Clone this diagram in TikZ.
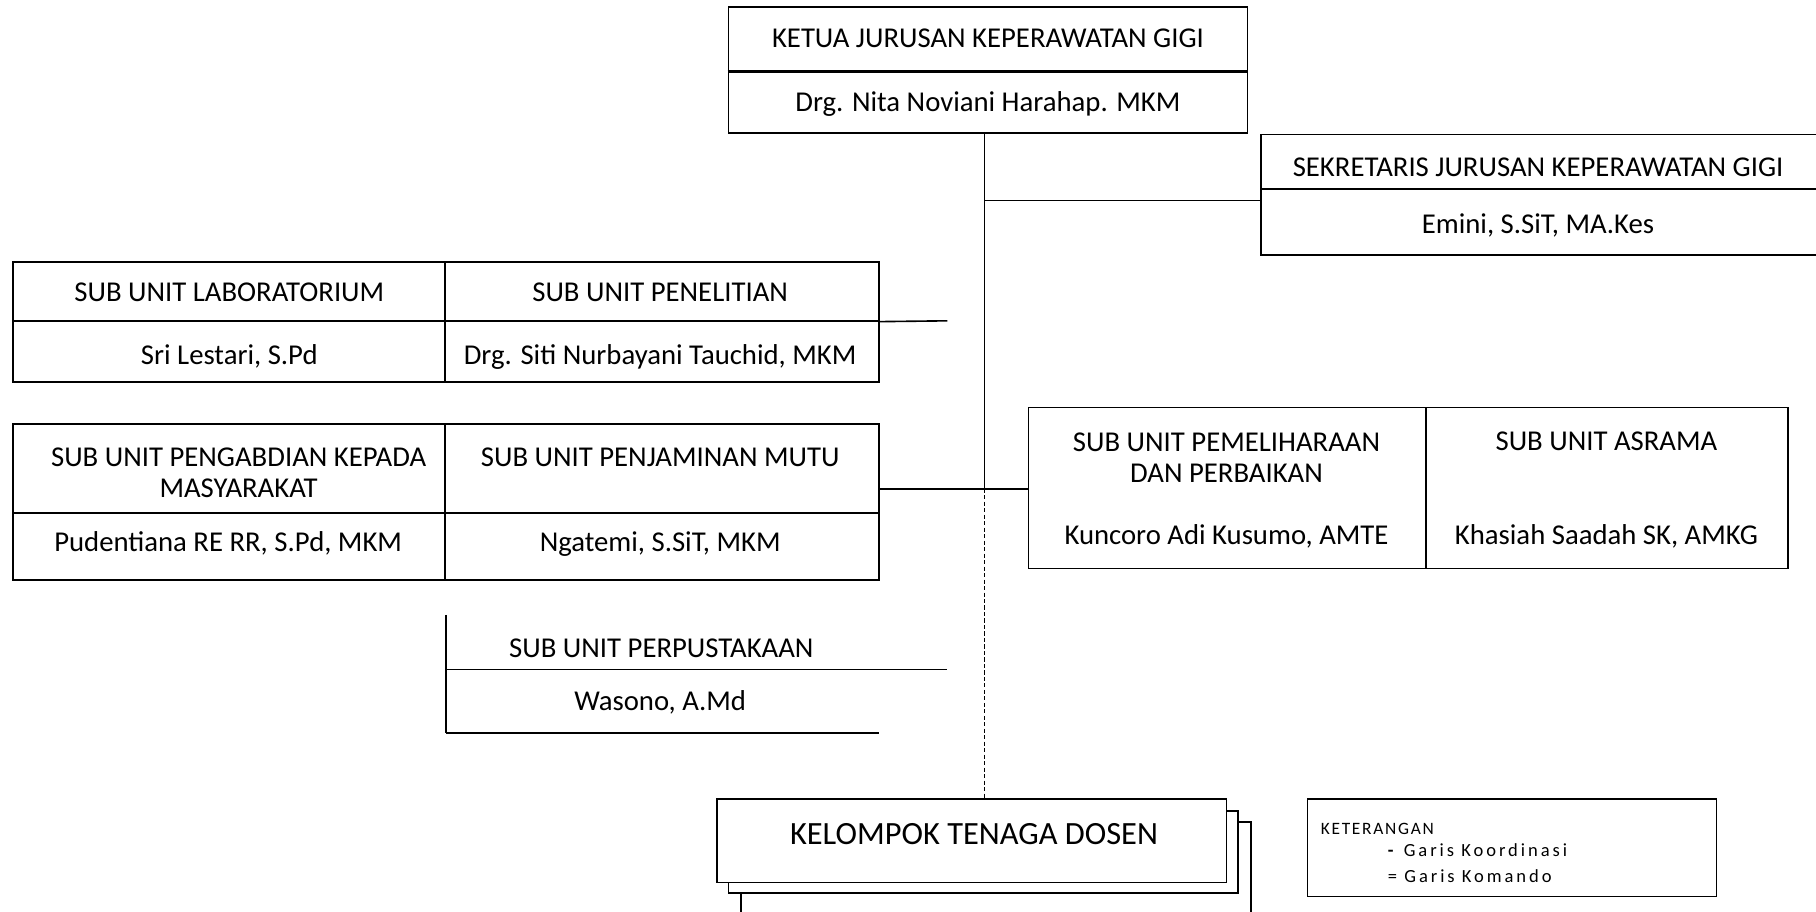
\documentclass[tikz,border=0pt]{standalone}
\usepackage{fontspec}
\setmainfont{Carlito}
\begin{document}
\begin{tikzpicture}[x=0.5pt,y=-0.5pt,
  cell/.style={draw, line width=0.7pt, inner sep=0pt},
  wcell/.style={cell, fill=white},
  txt2/.style={font=\fontsize{12.4}{13.5}\selectfont, inner sep=0pt, align=center},
  txt/.style={txt2, text height=0.64em, text depth=0em, yshift=-1pt},
  bigtxt/.style={font=\fontsize{14}{17}\selectfont, inner sep=0pt, text height=0.64em, text depth=0em, yshift=-1.5pt},
  smalltxt/.style={inner sep=0pt, anchor=west, text height=0.64em, text depth=0em},
  conn/.style={line width=0.7pt},
  coord/.style={line width=0.7pt, dash pattern=on 1.8pt off 1pt}]
\useasboundingbox (0,0) rectangle (1568,787);
\clip (0,0) rectangle (1568,787);
\newcommand\mkcell[6][cell]{%
  \pgfmathsetmacro\cw{(#5-#3)*0.5}\pgfmathsetmacro\chh{(#6-#4)*0.5}%
  \node[#1, minimum width=\cw pt, minimum height=\chh pt] (#2) at ({(#3+#5)/2},{(#4+#6)/2}) {};}

% ketua
\mkcell{ketuaT}{629}{6}{1077}{61}
\mkcell{ketuaN}{629}{61}{1077}{115}
\draw[line width=1.1pt] (ketuaT.south west) -- (ketuaT.south east);
\node[txt] (tKetua) at (853,33) {KETUA JURUSAN KEPERAWATAN GIGI};
\node[txt] (nKetua) at (853,88) {Drg. Nita Noviani Harahap. MKM};

% sekretaris
\mkcell{sekT}{1089}{116}{1580}{163}
\mkcell{sekN}{1089}{163}{1580}{220}
\node[txt] (tSek) at (1328,144) {SEKRETARIS JURUSAN KEPERAWATAN GIGI};
\node[txt] (nSek) at (1328,193) {Emini, S.SiT, MA.Kes};

% lab / penelitian
\mkcell{labT}{11}{226}{384}{277}
\mkcell{labN}{11}{277}{384}{330}
\mkcell{penT}{384}{226}{759}{277}
\mkcell{penN}{384}{277}{759}{330}
\node[txt] (tLab) at (198,252) {SUB UNIT LABORATORIUM};
\node[txt] (nLab) at (198,306) {Sri Lestari, S.Pd};
\node[txt] (tPen) at (570,252) {SUB UNIT PENELITIAN};
\node[txt] (nPen) at (570,306) {Drg. Siti Nurbayani Tauchid, MKM};
\coordinate (penEnd) at (818,277);
\draw[conn] (penT.south east) -- (penEnd);

% pengabdian / penjaminan
\mkcell{abdT}{11}{366}{384}{443}
\mkcell{abdN}{11}{443}{384}{501}
\mkcell{mutT}{384}{366}{759}{443}
\mkcell{mutN}{384}{443}{759}{501}
\node[txt2] (tAbd) at (206,408) {SUB UNIT PENGABDIAN KEPADA\\ MASYARAKAT};
\node[txt] (nAbd) at (197,468) {Pudentiana RE RR, S.Pd, MKM};
\node[txt] (tMut) at (570,394) {SUB UNIT PENJAMINAN MUTU};
\node[txt] (nMut) at (570,468) {Ngatemi, S.SiT, MKM};

% pemeliharaan / asrama
\mkcell{pem}{888}{352}{1231}{491}
\mkcell{asr}{1231}{352}{1544}{491}
\node[txt2] (tPem) at (1059,395) {SUB UNIT PEMELIHARAAN\\ DAN PERBAIKAN};
\node[txt] (nPem) at (1059,462) {Kuncoro Adi Kusumo, AMTE};
\node[txt] (tAsr) at (1387,381) {SUB UNIT ASRAMA};
\node[txt] (nAsr) at (1387,462) {Khasiah Saadah SK, AMKG};

% perpustakaan
\coordinate (pTop) at (385,531);
\coordinate (pMid) at (385,578);
\coordinate (pBot) at (385,633);
\coordinate (pMidE) at (818,578);
\coordinate (pBotE) at (759,633);
\draw[conn] (pTop) -- (pBot);
\draw[conn] (pMid) -- (pMidE);
\draw[conn] (pBot) -- (pBotE);
\node[txt] (tPer) at (571,559) {SUB UNIT PERPUSTAKAAN};
\node[txt] (nPer) at (570,605) {Wasono, A.Md};

% kelompok dosen
\mkcell[wcell]{dosen3}{640}{710}{1080}{820}
\mkcell[wcell]{dosen2}{629}{700}{1069}{771}
\mkcell[wcell]{dosen}{619}{690}{1059}{762}
\node[bigtxt] (tDosen) at (841,720) {KELOMPOK TENAGA DOSEN};

% keterangan
\mkcell{ket}{1129}{690}{1482}{774}
\node[smalltxt, font=\fontsize{7.5}{9}\selectfont\addfontfeature{LetterSpace=10}] (tKet) at (1140,714) {KETERANGAN};
\node[smalltxt, font=\fontsize{8}{9}\selectfont\addfontfeature{LetterSpace=16}] (kKoord) at (1198,733) {\textbf{-} Garis Koordinasi};
\node[smalltxt, font=\fontsize{8}{9}\selectfont\addfontfeature{LetterSpace=16}] (kKom) at (1198,756) {= Garis Komando};

% connectors
\coordinate (j1) at (850,115);
\coordinate (j2) at (850,173);
\coordinate (j3) at (850,422);
\draw[conn] (j1) -- (j3);
\draw[conn] (j2) -- (j2 -| sekN.west);
\draw[conn] (mutT.east |- j3) -- (pem.west |- j3);
\draw[coord] (j3) -- (j3 |- dosen.north);
\end{tikzpicture}
\end{document}
